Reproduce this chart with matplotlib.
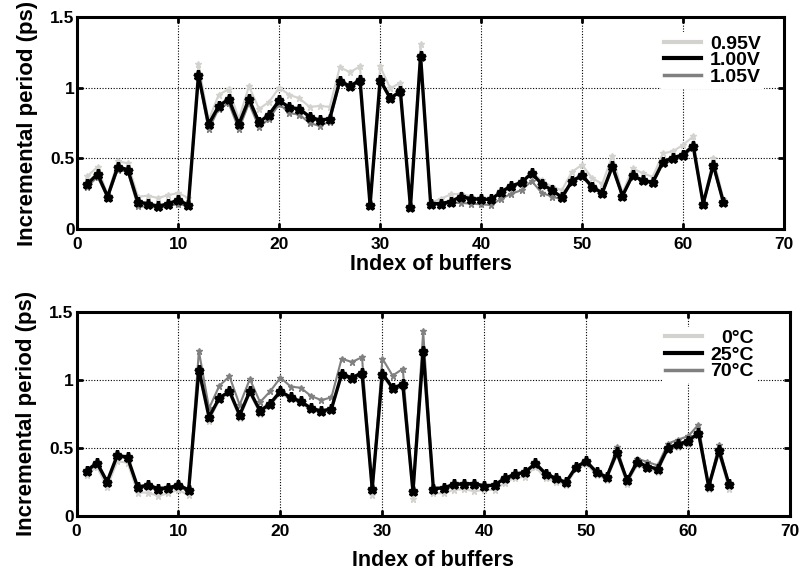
import matplotlib
matplotlib.use("Agg")
import matplotlib.pyplot as plt
from matplotlib.lines import Line2D
import numpy as np

plt.rcParams['font.family'] = ['Liberation Sans', 'DejaVu Sans']
plt.rcParams['font.weight'] = 'bold'

idx = np.arange(1, 65)

# supply voltage sweep
v095 = [0.375, 0.44, 0.24, 0.48, 0.465, 0.23, 0.235, 0.22, 0.24, 0.255, 0.22,
        1.17, 0.77, 0.95, 0.99, 0.78, 1.01, 0.85, 0.90, 1.0, 0.95, 0.925, 0.865, 0.87,
        0.865, 1.145, 1.11, 1.15, 0.18, 1.15, 0.995, 1.035, 0.16, 1.31,
        0.185, 0.215, 0.245, 0.25, 0.23, 0.21, 0.215, 0.255, 0.30, 0.33, 0.40, 0.345,
        0.30, 0.275, 0.405, 0.455, 0.36, 0.32, 0.52, 0.255, 0.43, 0.395, 0.37,
        0.535, 0.55, 0.595, 0.655, 0.18, 0.505, 0.215]
v100 = [0.32, 0.39, 0.23, 0.44, 0.42, 0.19, 0.18, 0.16, 0.18, 0.205, 0.17,
        1.09, 0.74, 0.87, 0.92, 0.74, 0.92, 0.755, 0.81, 0.91, 0.86, 0.85, 0.795, 0.77,
        0.78, 1.05, 1.01, 1.055, 0.17, 1.055, 0.925, 0.975, 0.155, 1.225,
        0.18, 0.18, 0.195, 0.23, 0.215, 0.21, 0.21, 0.265, 0.305, 0.33, 0.395, 0.32,
        0.275, 0.225, 0.34, 0.38, 0.30, 0.255, 0.445, 0.235, 0.38, 0.345, 0.33,
        0.475, 0.505, 0.525, 0.59, 0.18, 0.455, 0.19]
v105 = [0.30, 0.37, 0.22, 0.42, 0.405, 0.16, 0.16, 0.15, 0.16, 0.18, 0.16,
        1.08, 0.705, 0.85, 0.89, 0.705, 0.89, 0.72, 0.78, 0.885, 0.82, 0.81, 0.75, 0.73,
        0.76, 1.035, 1.005, 1.04, 0.17, 1.04, 0.92, 0.97, 0.155, 1.22,
        0.175, 0.175, 0.185, 0.185, 0.18, 0.175, 0.17, 0.215, 0.25, 0.275, 0.34, 0.257,
        0.23, 0.21, 0.335, 0.37, 0.29, 0.25, 0.43, 0.23, 0.37, 0.34, 0.32,
        0.46, 0.49, 0.51, 0.58, 0.175, 0.44, 0.185]

# temperature sweep
t0 = [0.30, 0.36, 0.21, 0.40, 0.39, 0.17, 0.17, 0.145, 0.165, 0.19, 0.15,
      1.05, 0.70, 0.85, 0.90, 0.72, 0.90, 0.75, 0.81, 0.90, 0.855, 0.83, 0.775, 0.76,
      0.77, 1.03, 1.00, 1.035, 0.15, 1.03, 0.925, 0.95, 0.125, 1.19,
      0.165, 0.165, 0.19, 0.195, 0.18, 0.19, 0.19, 0.24, 0.28, 0.285, 0.36, 0.275,
      0.25, 0.225, 0.34, 0.38, 0.30, 0.265, 0.445, 0.235, 0.375, 0.34, 0.325,
      0.48, 0.505, 0.53, 0.59, 0.20, 0.46, 0.195]
t25 = [0.33, 0.39, 0.25, 0.445, 0.43, 0.21, 0.225, 0.20, 0.205, 0.225, 0.19,
       1.075, 0.725, 0.865, 0.915, 0.74, 0.915, 0.77, 0.825, 0.915, 0.87, 0.84, 0.79, 0.77,
       0.785, 1.04, 1.015, 1.05, 0.20, 1.045, 0.94, 0.965, 0.18, 1.21,
       0.20, 0.205, 0.23, 0.235, 0.235, 0.22, 0.225, 0.275, 0.305, 0.32, 0.385, 0.31,
       0.275, 0.245, 0.36, 0.40, 0.32, 0.285, 0.465, 0.26, 0.395, 0.36, 0.345,
       0.50, 0.525, 0.55, 0.61, 0.215, 0.48, 0.23]
t70 = [0.32, 0.38, 0.24, 0.435, 0.42, 0.20, 0.215, 0.19, 0.195, 0.215, 0.18,
       1.21, 0.79, 0.955, 1.025, 0.815, 1.005, 0.835, 0.915, 1.015, 0.95, 0.94, 0.88, 0.85,
       0.87, 1.155, 1.13, 1.165, 0.19, 1.155, 1.03, 1.08, 0.175, 1.355,
       0.195, 0.20, 0.225, 0.23, 0.23, 0.215, 0.22, 0.27, 0.30, 0.315, 0.38, 0.305,
       0.27, 0.24, 0.355, 0.395, 0.315, 0.28, 0.505, 0.255, 0.42, 0.395, 0.37,
       0.53, 0.56, 0.585, 0.67, 0.21, 0.52, 0.225]

light = '#d4d2ce'
dark = '#808080'

fig = plt.figure(figsize=(8.03, 5.77), dpi=100)
ax1 = fig.add_axes([0.0963, 0.603, 0.880, 0.3675])
ax2 = fig.add_axes([0.0953, 0.1062, 0.8888, 0.3536])


def panel(ax, series, labels, xpad, legx):
    (ya, la), (yb, lb), (yc, lc) = zip(series, labels)
    ax.plot(idx, ya, '-*', color=light, lw=1.5, ms=5, mew=1)
    ax.plot(idx, yc, '-*', color=dark, lw=1.5, ms=5, mew=1)
    ax.plot(idx, yb, '-*', color='k', lw=2.4, ms=6.5, mew=2.4)
    ax.set_xlim(0, 70)
    ax.set_ylim(0, 1.5)
    ax.set_xticks(range(0, 71, 10))
    ax.set_yticks([0, 0.5, 1, 1.5])
    ax.set_yticklabels(['0', '0.5', '1', '1.5'])
    ax.grid(True, color='k', linestyle=(0, (1, 1.5)), lw=0.8)
    ax.tick_params(direction='in', top=True, right=True, length=4, width=2,
                   labelsize=12.5)
    ax.tick_params(axis='x', pad=6)
    ax.tick_params(axis='y', pad=2)
    for s in ax.spines.values():
        s.set_linewidth(2.2)
    ax.set_xlabel('Index of buffers', fontsize=15.5, fontweight='bold', labelpad=xpad)
    ax.set_ylabel('Incremental period (ps)', fontsize=16, fontweight='bold', labelpad=9)
    handles = [Line2D([], [], color=light, lw=3),
               Line2D([], [], color='k', lw=3),
               Line2D([], [], color=dark, lw=2.5)]
    leg = ax.legend(handles, [la, lb, lc], loc='upper right',
                    bbox_to_anchor=(legx, 0.975),
                    handlelength=1.9, handletextpad=0.45, labelspacing=-0.05,
                    borderpad=0.15, frameon=True, fancybox=False,
                    prop={'weight': 'bold', 'size': 14})
    leg.get_frame().set_edgecolor('none')
    leg.get_frame().set_facecolor('white')
    leg.get_frame().set_alpha(1)
    return leg


legs = [panel(ax1, [v095, v100, v105], ['0.95V', '1.00V', '1.05V'], 1, 0.985),
        panel(ax2, [t0, t25, t70], ['0°C', '25°C', '70°C'], 8, 0.967)]

# right-align the legend labels
fig.canvas.draw()
renderer = fig.canvas.get_renderer()
for leg in legs:
    texts = leg.get_texts()
    widths = [t.get_window_extent(renderer).width for t in texts]
    for t, w in zip(texts, widths):
        t.set_position((max(widths) - w, 0))

fig.savefig('out.png', dpi=100)
